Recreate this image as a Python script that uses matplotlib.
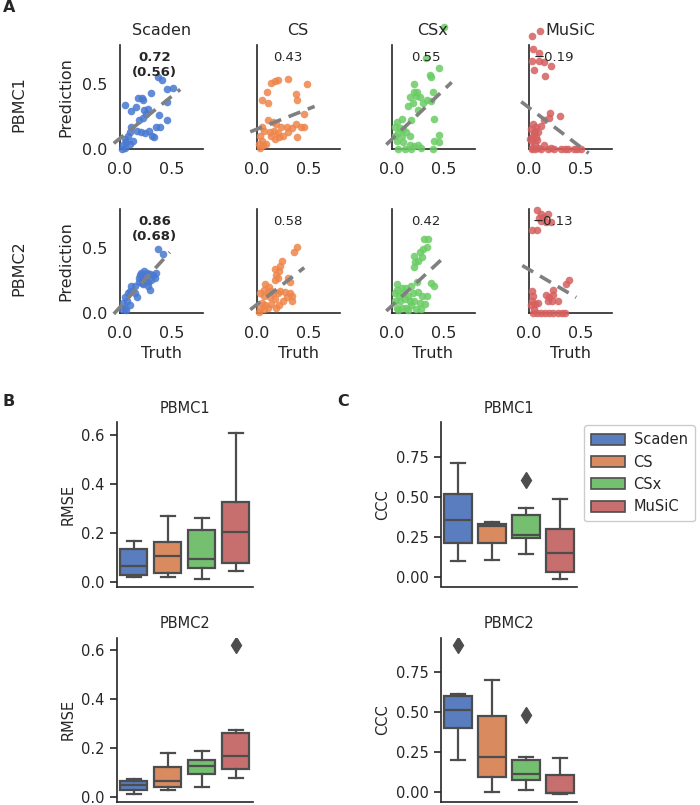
import colorsys
import numpy as np
import matplotlib
matplotlib.use("Agg")
import matplotlib.pyplot as plt
from matplotlib.colors import to_rgb
from matplotlib.patches import Patch

# ---------------- data ----------------
methods = ['Scaden', 'CS', 'CSx', 'MuSiC']
datasets = ['PBMC1', 'PBMC2']
palette = ['#4878d0', '#ee854a', '#6acc64', '#d65f5f']

# (truth, prediction) pairs
scaden_pbmc1 = [(0.40, 0.53), (0.37, 0.55), (0.45, 0.46), (0.51, 0.47), (0.30, 0.43), (0.17, 0.39),
                (0.21, 0.39), (0.22, 0.38), (0.05, 0.34), (0.11, 0.29), (0.15, 0.32), (0.23, 0.30),
                (0.27, 0.31), (0.25, 0.27), (0.45, 0.36), (0.38, 0.26), (0.45, 0.22), (0.18, 0.22),
                (0.22, 0.24), (0.35, 0.17), (0.39, 0.17), (0.11, 0.17), (0.16, 0.14), (0.20, 0.13),
                (0.24, 0.12), (0.28, 0.14), (0.31, 0.10), (0.33, 0.09), (0.08, 0.10), (0.10, 0.13),
                (0.05, 0.08), (0.06, 0.05), (0.03, 0.03), (0.10, 0.04), (0.02, 0.00), (0.05, 0.01),
                (0.13, 0.06)]
cs_pbmc1 = [(0.14, 0.51), (0.18, 0.52), (0.21, 0.53), (0.30, 0.54), (0.49, 0.50), (0.10, 0.44),
            (0.38, 0.42), (0.39, 0.38), (0.05, 0.38), (0.11, 0.35), (0.46, 0.27), (0.11, 0.22),
            (0.16, 0.21), (0.19, 0.19), (0.24, 0.17), (0.29, 0.17), (0.34, 0.16), (0.38, 0.19),
            (0.43, 0.17), (0.46, 0.17), (0.05, 0.17), (0.07, 0.14), (0.13, 0.13), (0.17, 0.14),
            (0.21, 0.12), (0.26, 0.10), (0.30, 0.13), (0.39, 0.09), (0.03, 0.10), (0.05, 0.06),
            (0.02, 0.04), (0.06, 0.03), (0.03, 0.01), (0.09, 0.04), (0.14, 0.10), (0.18, 0.08),
            (0.22, 0.09)]
csx_pbmc1 = [(0.51, 0.94), (0.33, 0.70), (0.37, 0.57), (0.46, 0.62), (0.38, 0.55), (0.22, 0.50),
             (0.22, 0.44), (0.25, 0.44), (0.24, 0.41), (0.18, 0.40), (0.27, 0.40), (0.34, 0.38),
             (0.40, 0.44), (0.16, 0.33), (0.21, 0.35), (0.30, 0.35), (0.38, 0.37), (0.26, 0.30),
             (0.10, 0.23), (0.05, 0.21), (0.19, 0.22), (0.41, 0.23), (0.03, 0.17), (0.08, 0.16),
             (0.11, 0.15), (0.06, 0.12), (0.03, 0.10), (0.10, 0.10), (0.14, 0.13), (0.18, 0.10),
             (0.46, 0.11), (0.41, 0.06), (0.46, 0.05), (0.05, 0.06), (0.11, 0.05), (0.18, 0.03),
             (0.22, 0.02), (0.26, 0.03), (0.28, 0.01), (0.06, 0.00), (0.13, 0.00), (0.19, 0.00),
             (0.40, 0.00)]
music_pbmc1 = [(0.11, 0.91), (0.035, 0.87), (0.04, 0.77), (0.10, 0.74), (0.035, 0.68), (0.10, 0.68),
               (0.15, 0.67), (0.22, 0.64), (0.05, 0.61), (0.16, 0.56), (0.21, 0.28), (0.20, 0.24),
               (0.30, 0.25), (0.04, 0.19), (0.07, 0.17), (0.06, 0.14), (0.09, 0.13), (0.12, 0.18),
               (0.04, 0.10), (0.07, 0.09), (0.03, 0.06), (0.06, 0.04), (0.03, 0.01), (0.15, 0.22),
               (0.02, 0.15), (0.01, 0.08), (0.05, 0.12), (0.08, 0.07), (0.06, 0.00), (0.12, 0.00),
               (0.19, 0.00), (0.25, 0.00), (0.31, 0.00), (0.38, 0.00), (0.44, 0.00), (0.51, 0.00),
               (0.15, 0.03), (0.09, 0.01), (0.03, 0.00), (0.22, 0.01), (0.35, 0.00), (0.47, 0.00)]
scaden_pbmc2 = [(0.37, 0.49), (0.41, 0.45), (0.23, 0.32), (0.26, 0.31), (0.29, 0.30), (0.32, 0.29),
                (0.34, 0.27), (0.30, 0.25), (0.27, 0.24), (0.24, 0.25), (0.21, 0.28), (0.19, 0.29),
                (0.18, 0.24), (0.22, 0.22), (0.27, 0.21), (0.29, 0.18), (0.14, 0.21), (0.11, 0.21),
                (0.10, 0.17), (0.08, 0.15), (0.14, 0.15), (0.16, 0.12), (0.05, 0.12), (0.07, 0.09),
                (0.03, 0.08), (0.10, 0.06), (0.05, 0.04), (0.02, 0.03), (0.06, 0.02), (0.35, 0.31),
                (0.20, 0.31), (0.18, 0.27), (0.21, 0.23)]
cs_pbmc2 = [(0.39, 0.51), (0.36, 0.47), (0.25, 0.40), (0.23, 0.36), (0.18, 0.34), (0.22, 0.32),
            (0.19, 0.29), (0.21, 0.27), (0.30, 0.27), (0.32, 0.24), (0.18, 0.25), (0.08, 0.22),
            (0.12, 0.20), (0.14, 0.17), (0.07, 0.18), (0.11, 0.16), (0.16, 0.15), (0.21, 0.15),
            (0.03, 0.15), (0.07, 0.13), (0.13, 0.12), (0.18, 0.11), (0.23, 0.17), (0.27, 0.16),
            (0.32, 0.15), (0.34, 0.13), (0.29, 0.12), (0.34, 0.09), (0.26, 0.09), (0.22, 0.06),
            (0.19, 0.04), (0.05, 0.08), (0.08, 0.06), (0.03, 0.04), (0.07, 0.03), (0.11, 0.04),
            (0.14, 0.07), (0.02, 0.01)]
csx_pbmc2 = [(0.31, 0.57), (0.35, 0.57), (0.34, 0.51), (0.30, 0.49), (0.27, 0.47), (0.29, 0.43),
             (0.22, 0.44), (0.26, 0.40), (0.22, 0.35), (0.23, 0.39), (0.25, 0.24), (0.38, 0.23),
             (0.41, 0.21), (0.05, 0.22), (0.05, 0.18), (0.10, 0.19), (0.14, 0.19), (0.19, 0.21),
             (0.03, 0.15), (0.07, 0.13), (0.11, 0.15), (0.16, 0.13), (0.21, 0.15), (0.26, 0.16),
             (0.29, 0.13), (0.34, 0.13), (0.03, 0.09), (0.08, 0.09), (0.13, 0.11), (0.18, 0.09),
             (0.22, 0.09), (0.27, 0.08), (0.32, 0.07), (0.05, 0.04), (0.10, 0.04), (0.14, 0.04),
             (0.19, 0.06), (0.24, 0.03), (0.28, 0.03), (0.06, 0.02), (0.16, 0.02)]
music_pbmc2 = [(0.08, 0.79), (0.12, 0.76), (0.15, 0.74), (0.19, 0.76), (0.10, 0.73), (0.12, 0.71),
               (0.17, 0.70), (0.22, 0.70), (0.03, 0.64), (0.08, 0.64), (0.39, 0.25), (0.36, 0.22),
               (0.03, 0.17), (0.04, 0.13), (0.03, 0.09), (0.06, 0.07), (0.09, 0.08), (0.17, 0.14),
               (0.20, 0.12), (0.24, 0.18), (0.24, 0.14), (0.19, 0.09), (0.23, 0.09), (0.28, 0.09),
               (0.05, 0.03), (0.02, 0.06), (0.04, 0.00), (0.08, 0.00), (0.12, 0.00), (0.16, 0.00),
               (0.20, 0.00), (0.24, 0.00), (0.28, 0.00), (0.32, 0.00), (0.35, 0.00)]

corr_pbmc1 = ['0.72\n(0.56)', '0.43', '0.55', '\u22120.19']
corr_pbmc2 = ['0.86\n(0.68)', '0.58', '0.42', '\u22120.13']

# box summaries per method: [whisker low, q1, median, q3, whisker high]
rmse_pbmc1 = [[0.023, 0.030, 0.067, 0.136, 0.170], [0.023, 0.037, 0.107, 0.162, 0.271],
              [0.014, 0.060, 0.094, 0.212, 0.261], [0.046, 0.079, 0.204, 0.328, 0.607]]
rmse_pbmc1_out = [[], [], [], []]
rmse_pbmc2 = [[0.014, 0.030, 0.050, 0.068, 0.076], [0.028, 0.041, 0.066, 0.122, 0.182],
              [0.043, 0.093, 0.127, 0.153, 0.189], [0.080, 0.114, 0.168, 0.261, 0.273]]
rmse_pbmc2_out = [[], [], [], [0.618]]
ccc_pbmc1 = [[0.099, 0.215, 0.354, 0.516, 0.713], [0.108, 0.213, 0.321, 0.329, 0.346],
             [0.147, 0.247, 0.263, 0.389, 0.429], [-0.010, 0.035, 0.149, 0.302, 0.485]]
ccc_pbmc1_out = [[], [], [0.605], []]
ccc_pbmc2 = [[0.199, 0.400, 0.514, 0.601, 0.611], [0.004, 0.093, 0.220, 0.474, 0.700],
             [0.012, 0.073, 0.116, 0.199, 0.222], [-0.012, -0.006, -0.002, 0.110, 0.213]]
ccc_pbmc2_out = [[0.914], [], [0.479], []]

# ---------------- style ----------------
W, H = 700, 805
ink = '#262626'
gray = '#4d4d4d'
plt.rcParams.update({'font.family': 'DejaVu Sans', 'text.color': ink,
                     'axes.labelcolor': ink, 'xtick.color': ink, 'ytick.color': ink,
                     'axes.edgecolor': ink, 'axes.linewidth': 1.2})


def desaturate(c, prop):
    h, l, s = colorsys.rgb_to_hls(*to_rgb(c))
    return colorsys.hls_to_rgb(h, l, s * prop)


box_colors = [desaturate(c, 0.75) for c in palette]

fig = plt.figure(figsize=(W / 100, H / 100), dpi=100)

# ---------------- panel A ----------------
scatter = [[scaden_pbmc1, cs_pbmc1, csx_pbmc1, music_pbmc1],
           [scaden_pbmc2, cs_pbmc2, csx_pbmc2, music_pbmc2]]
corrs = [corr_pbmc1, corr_pbmc2]
col_left = [120, 256.5, 391.5, 528.5]
row_bottom = [149, 313]
text_x = [0.42, 0.38, 0.41, 0.30]

for r in range(2):
    for c in range(4):
        ax = fig.add_axes([col_left[c] / W, 1 - row_bottom[r] / H, 83 / W, 104 / H])
        pts = np.array(scatter[r][c])
        x, y = pts[:, 0], pts[:, 1]
        ax.scatter(x, y, s=30, color=palette[c], alpha=0.85, linewidths=0,
                   clip_on=False, zorder=3)
        k, b = np.polyfit(x, y, 1)
        xs = np.array([x.min() - 0.08, x.max() + 0.07])
        ax.plot(xs, k * xs + b, color='gray', lw=2.6, ls=(0, (3.5, 2.2)),
                clip_on=False, zorder=4)
        ax.text(text_x[c], 0.94, corrs[r][c], transform=ax.transAxes, ha='center',
                va='top', fontsize=9.5, fontweight='bold' if c == 0 else 'normal', zorder=5)
        ax.set_xlim(0, 0.8)
        ax.set_ylim(0, 0.8)
        ax.set_xticks([0, 0.5])
        ax.set_xticklabels(['0.0', '0.5'])
        ax.set_yticks([0, 0.5])
        ax.set_yticklabels(['0.0', '0.5'])
        ax.tick_params(length=0, labelsize=11.5, pad=9)
        for s in ['top', 'right']:
            ax.spines[s].set_visible(False)
        if c > 0:
            ax.tick_params(labelleft=False)
        else:
            ax.set_ylabel('Prediction', fontsize=11.5, labelpad=6)
        if r == 0:
            ax.set_title(methods[c], fontsize=11.5, pad=7)
        else:
            ax.set_xlabel('Truth', fontsize=11.5, labelpad=4)

fig.text(19 / W, 1 - 104 / H, 'PBMC1', rotation=90, ha='center', va='center', fontsize=11.5)
fig.text(19 / W, 1 - 268 / H, 'PBMC2', rotation=90, ha='center', va='center', fontsize=11.5)

# ---------------- panels B and C ----------------
panels = [('RMSE', [rmse_pbmc1, rmse_pbmc2], [rmse_pbmc1_out, rmse_pbmc2_out],
           (-0.017, 0.65), [0, 0.2, 0.4, 0.6], '{:.1f}', 116.7),
          ('CCC', [ccc_pbmc1, ccc_pbmc2], [ccc_pbmc1_out, ccc_pbmc2_out],
           (-0.058, 0.963), [0, 0.25, 0.5, 0.75], '{:.2f}', 441)]
box_bottom = [586.5, 801.5]

for metric, summaries, outliers, ylim, yticks, fmt, left in panels:
    for r in range(2):
        ax = fig.add_axes([left / W, 1 - box_bottom[r] / H, 136 / W, 164 / H])
        stats = []
        for i, m in enumerate(methods):
            lo, q1, med, q3, hi = summaries[r][i]
            stats.append({'whislo': lo, 'q1': q1, 'med': med, 'q3': q3, 'whishi': hi,
                          'fliers': outliers[r][i], 'label': m})
        bp = ax.bxp(stats, positions=range(4), widths=0.8, patch_artist=True,
                    boxprops=dict(edgecolor=gray, linewidth=1.6),
                    medianprops=dict(color=gray, linewidth=1.6),
                    whiskerprops=dict(color=gray, linewidth=1.6),
                    capprops=dict(color=gray, linewidth=1.6),
                    flierprops=dict(marker='d', markerfacecolor=gray, markeredgecolor=gray,
                                    markersize=8))
        for patch, col in zip(bp['boxes'], box_colors):
            patch.set_facecolor(col)
        ax.set_xlim(-0.5, 3.5)
        ax.set_ylim(*ylim)
        ax.set_xticks([])
        ax.set_yticks(yticks)
        ax.set_yticklabels([fmt.format(v) for v in yticks])
        ax.tick_params(axis='y', length=5, width=1.2, labelsize=10.5, pad=4)
        for s in ['top', 'right']:
            ax.spines[s].set_visible(False)
        ax.set_ylabel(metric, fontsize=10.5)
        ax.set_title(datasets[r], fontsize=10.5, pad=7)
        if metric == 'CCC' and r == 0:
            handles = [Patch(facecolor=col, edgecolor=gray, linewidth=1.2) for col in box_colors]
            ax.legend(handles, methods, loc='upper left', bbox_to_anchor=(584 / W, 1 - 425 / H),
                      bbox_transform=fig.transFigure, borderaxespad=0, fontsize=10.5,
                      handlelength=2.3, handleheight=0.8, handletextpad=0.6,
                      labelspacing=0.5, borderpad=0.5,
                      edgecolor='#cccccc', framealpha=1)

# panel letters
fig.text(3 / W, 1 - 8 / H, 'A', fontsize=11.5, fontweight='bold', va='center')
fig.text(3 / W, 1 - 401 / H, 'B', fontsize=11.5, fontweight='bold', va='center')
fig.text(337 / W, 1 - 401 / H, 'C', fontsize=11.5, fontweight='bold', va='center')

fig.savefig('out.png', dpi=100)
